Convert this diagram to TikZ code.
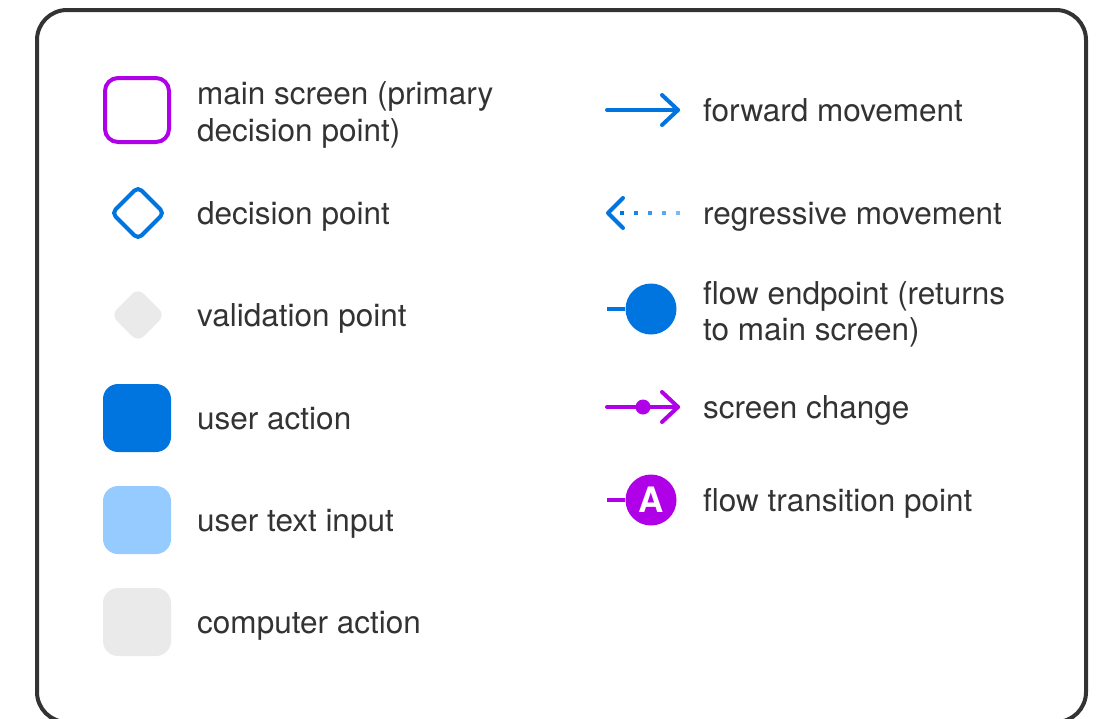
\documentclass[tikz,border=0pt]{standalone}
\usepackage{fontspec}
\setmainfont{TeX Gyre Heros}
\usetikzlibrary{calc}
\definecolor{ink}{HTML}{333333}
\definecolor{purp}{HTML}{B000E8}
\definecolor{blu}{HTML}{0074DF}
\definecolor{lblu}{HTML}{96CBFF}
\definecolor{gry}{HTML}{EAEAEA}
\begin{document}
\begin{tikzpicture}[x=1pt,y=-1pt,
  lbl/.style={anchor=base west,inner sep=0pt,text=ink,font=\fontsize{31.5}{37}\selectfont},
  sq/.style={minimum size=68pt,inner sep=0pt,rounded corners=15pt},
  glyph/.style={line width=4pt,line cap=round,line join=round}]
\useasboundingbox (0,0) rectangle (1105,718);
\begin{scope}
\clip (0,0) rectangle (1105,718);
\draw[ink,line width=4pt,rounded corners=30pt] (37,10) rectangle (1086,722);
\end{scope}
% left column
\node[sq,draw=purp,line width=4pt,minimum size=64pt,rounded corners=13pt] (ms) at (137,110) {};
\node[lbl] (tms1) at (197,104) {main screen (primary};
\node[lbl] (tms2) at (197,141) {decision point)};
\draw[blu,line width=4pt,rounded corners=5pt] (138,187) -- (164,213) -- (138,239) -- (112,213) -- cycle;
\coordinate (dp) at (138,213);
\node[lbl] (tdp) at (197,224) {decision point};
\fill[gry,rounded corners=8pt] (138,288) -- (165,315) -- (138,342) -- (111,315) -- cycle;
\coordinate (vp) at (138,315);
\node[lbl] (tvp) at (197,326) {validation point};
\node[sq,fill=blu] (ua) at (137,418) {};
\node[lbl] (tua) at (197,429) {user action};
\node[sq,fill=lblu] (ui) at (137,520) {};
\node[lbl] (tui) at (197,531) {user text input};
\node[sq,fill=gry] (ca) at (137,622) {};
\node[lbl] (tca) at (197,633) {computer action};
% right column
\coordinate (f1) at (607,110); \coordinate (f2) at (678,110);
\draw[blu,glyph] (f1) -- (f2);
\draw[blu,glyph] ($(f2)+(-16,-15)$) -- (f2) -- ($(f2)+(-16,15)$);
\node[lbl] (tf) at (703,121) {forward movement};
\coordinate (r1) at (608,213);
\draw[blu,glyph] ($(r1)+(15,-15)$) -- (r1) -- ($(r1)+(15,15)$);
\foreach \i/\c in {0/100,1/80,2/60,3/40,4/20}{
  \fill[blu!\c!lblu] ($(r1)+(14+14*\i,0)+(-2.4,-2.4)$) rectangle ($(r1)+(14+14*\i,0)+(2.4,2.4)$);
}
\node[lbl] (tr) at (703,224) {regressive movement};
\node[circle,fill=blu,minimum size=51pt,inner sep=0pt] (fe) at (651,309) {};
\coordinate (fe0) at (607,309);
\draw[blu,line width=4pt] (fe0) -- (fe.west);
\node[lbl] (tfe1) at (703,304) {flow endpoint (returns};
\node[lbl] (tfe2) at (703,340) {to main screen)};
\coordinate (s1) at (607,407); \coordinate (s2) at (678,407);
\node[circle,fill=purp,minimum size=15pt,inner sep=0pt] (sd) at (643,407) {};
\draw[purp,glyph] (s1) -- (sd) -- (s2);
\draw[purp,glyph] ($(s2)+(-16,-15)$) -- (s2) -- ($(s2)+(-16,15)$);
\node[lbl] (ts) at (703,418) {screen change};
\node[circle,fill=purp,minimum size=51pt,inner sep=0pt,text=white,font=\fontsize{35}{35}\selectfont\bfseries] (ft) at (651,500) {A};
\coordinate (ft0) at (607,500);
\draw[purp,line width=4pt] (ft0) -- (ft.west);
\node[lbl] (tft) at (703,511) {flow transition point};
\end{tikzpicture}
\end{document}
